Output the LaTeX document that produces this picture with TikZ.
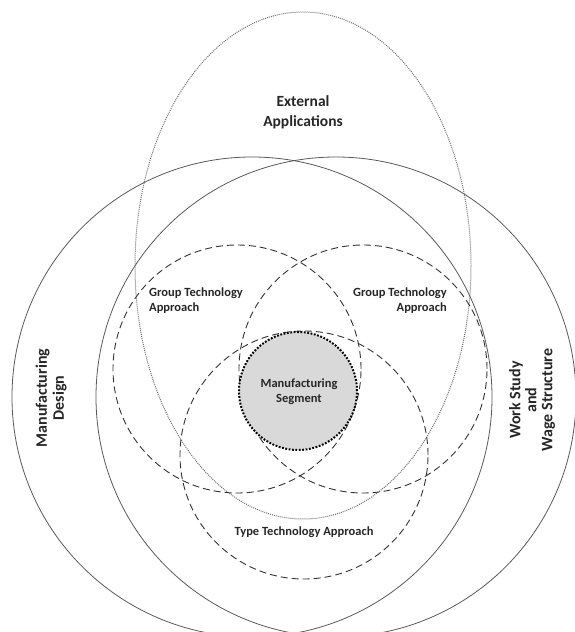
\documentclass[tikz,border=0pt]{standalone}
\usepackage{fontspec}
\setmainfont{Carlito}
\begin{document}
\begin{tikzpicture}[x=1pt,y=-1pt,
  outer/.style={draw=black!65, line width=0.8pt},
  gtech/.style={draw=black!80, line width=0.9pt, dash pattern=on 7pt off 4pt},
  extapp/.style={draw=black!55, line width=1pt, dash pattern=on 1pt off 1pt},
  seg/.style={fill=black!15, draw=black, line width=2pt, dash pattern=on 1.8pt off 1.6pt},
  lbl/.style={font=\fontsize{12.5}{15}\selectfont\bfseries, inner sep=0pt, text=black!85},
  big/.style={font=\fontsize{16}{17}\selectfont\bfseries, inner sep=0pt, align=center, text=black!85}]
\useasboundingbox (0,0) rectangle (575,632);
\clip (0,0) rectangle (575,632);
% outer circles
\draw[outer] (252,397) circle (240pt);
\draw[outer] (336,397) circle (240pt);
% external applications ellipse
\draw[extapp] (303,265.5) ellipse [x radius=168pt, y radius=253.5pt];
% technology circles
\draw[gtech] (237,369) circle (124pt);
\draw[gtech] (363,369) circle (124pt);
\draw[gtech] (304,455) circle (124pt);
% manufacturing segment
\draw[seg] (298,391) circle (59pt);
% labels
\node[big, font=\fontsize{15.5}{20}\selectfont\bfseries] (ext) at (303,112) {External\\Applications};
\node[lbl, align=left, anchor=west] (gtl) at (149,301) {Group Technology\\Approach};
\node[lbl, align=right, anchor=east] (gtr) at (447,301) {Group Technology\\Approach};
\node[lbl, align=center] (ms) at (299,392) {Manufacturing\\Segment};
\node[lbl] (tta) at (304,532.5) {Type Technology Approach};
\node[big, rotate=90] (md) at (51,398) {Manufacturing\\Design};
\node[big, rotate=90, font=\fontsize{16}{16}\selectfont\bfseries] (ws) at (532,400) {Work Study\\and\\Wage Structure};
\end{tikzpicture}
\end{document}
